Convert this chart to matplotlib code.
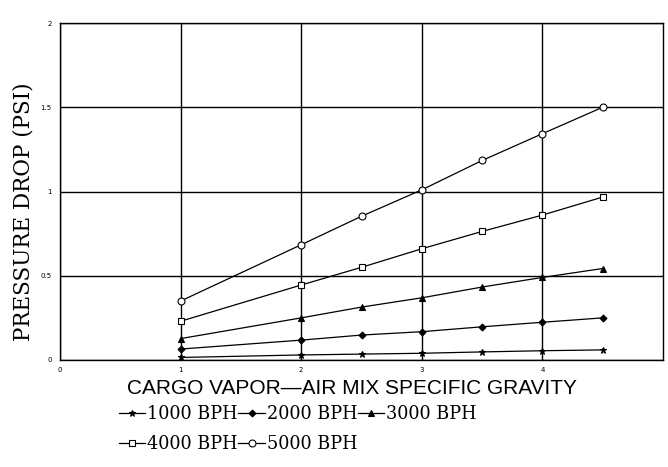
import matplotlib
matplotlib.use("Agg")
import matplotlib.pyplot as plt

sg = [1, 2, 2.5, 3, 3.5, 4, 4.5]
bph_1000 = [0.015, 0.03, 0.035, 0.04, 0.048, 0.055, 0.06]
bph_2000 = [0.065, 0.118, 0.148, 0.168, 0.197, 0.224, 0.25]
bph_3000 = [0.127, 0.25, 0.314, 0.369, 0.433, 0.49, 0.543]
bph_4000 = [0.23, 0.445, 0.55, 0.66, 0.763, 0.86, 0.967]
bph_5000 = [0.35, 0.684, 0.853, 1.01, 1.184, 1.343, 1.5]
labels = ["1000 BPH", "2000 BPH", "3000 BPH", "4000 BPH", "5000 BPH"]
x_ticks = [0, 1, 2, 3, 4]
y_ticks = [0, 0.5, 1, 1.5, 2]
y_ticklabels = ["0", "0.5", "1", "1.5", "2"]

fig = plt.figure(figsize=(6.68, 4.67), dpi=100)
ax = fig.add_axes([60/668, 1-360/467, 603/668, 337/467])

series = [bph_1000, bph_2000, bph_3000, bph_4000, bph_5000]
styles = [
    dict(marker="*", ms=5, mfc="black"),
    dict(marker="D", ms=3.5, mfc="black"),
    dict(marker="^", ms=4, mfc="black"),
    dict(marker="s", ms=5, mfc="white"),
    dict(marker="o", ms=5, mfc="white"),
]
handles = []
for vals, lab, st in zip(series, labels, styles):
    h, = ax.plot(sg, vals, color="black", lw=0.9, mec="black", mew=0.8, label=lab, **st)
    handles.append(h)

ax.set_xlim(0, 5)
ax.set_ylim(0, 2)
ax.set_xticks(x_ticks)
ax.set_yticks(y_ticks)
ax.set_yticklabels(y_ticklabels)
ax.tick_params(length=0, labelsize=5)
ax.tick_params(axis="y", pad=6)
ax.tick_params(axis="x", pad=5)
ax.grid(True, color="black", lw=1.0)
for s in ax.spines.values():
    s.set_color("black")
    s.set_linewidth(1.0)

ax.set_ylabel("PRESSURE DROP (PSI)", family="DejaVu Serif", fontsize=15.5, labelpad=0)
ax.yaxis.set_label_coords(-25/603, 0.44)
ax.set_xlabel("CARGO VAPOR\u2014AIR MIX SPECIFIC GRAVITY", family="Liberation Sans",
              fontsize=15)
ax.xaxis.set_label_coords(292/603, -28/337)
ax.xaxis.label.set_va("center")

order = [0, 3, 1, 4, 2]
fig.legend([handles[i] for i in order], [labels[i] for i in order],
           loc="upper left", bbox_to_anchor=(110/668, 1-396/467), ncol=3, frameon=False,
           prop={"family": "DejaVu Serif", "size": 12.7}, handlelength=1.5,
           handletextpad=0.1, columnspacing=0.05, labelspacing=0.7, borderpad=0)

fig.savefig("out.png", dpi=100, facecolor="white")
